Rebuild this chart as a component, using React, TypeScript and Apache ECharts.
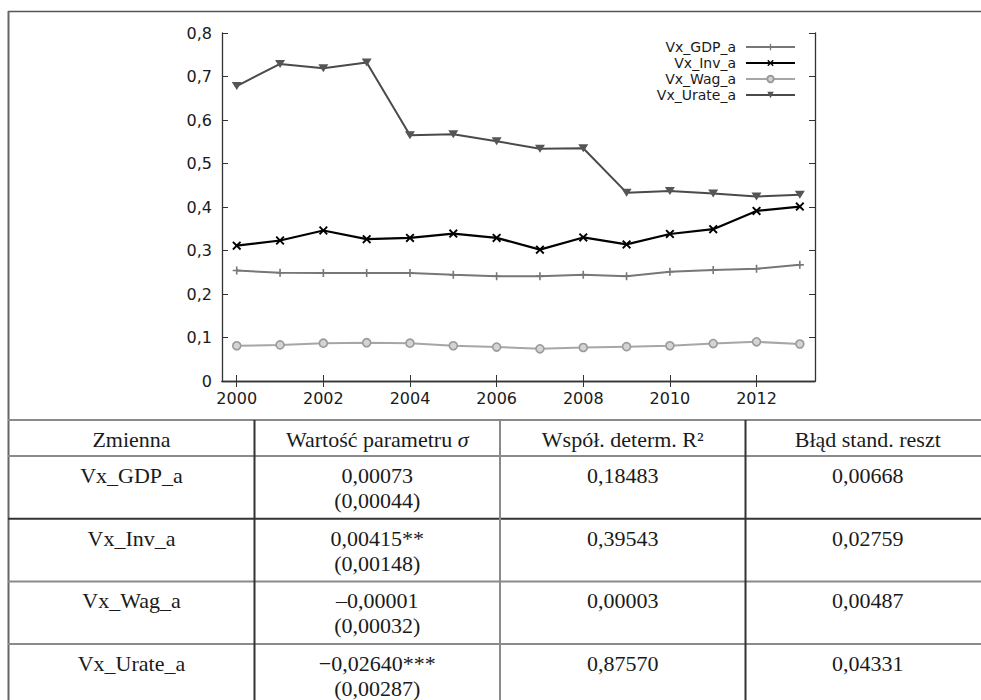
import React, { useEffect, useRef } from 'react';
import * as echarts from 'echarts';

const years = [2000, 2001, 2002, 2003, 2004, 2005, 2006, 2007, 2008, 2009, 2010, 2011, 2012, 2013];
const xTickYears = [2000, 2002, 2004, 2006, 2008, 2010, 2012];
const seriesNames = ['Vx_GDP_a', 'Vx_Inv_a', 'Vx_Wag_a', 'Vx_Urate_a'];
const gdp = [0.254, 0.249, 0.248, 0.248, 0.248, 0.244, 0.241, 0.241, 0.244, 0.241, 0.251, 0.255, 0.258, 0.267];
const inv = [0.311, 0.323, 0.346, 0.326, 0.329, 0.339, 0.329, 0.302, 0.330, 0.314, 0.338, 0.349, 0.391, 0.401];
const wag = [0.081, 0.083, 0.087, 0.088, 0.087, 0.081, 0.078, 0.074, 0.077, 0.079, 0.081, 0.086, 0.090, 0.085];
const urate = [0.678, 0.729, 0.719, 0.732, 0.565, 0.567, 0.551, 0.534, 0.535, 0.433, 0.437, 0.431, 0.424, 0.428];

const tableHeaders = ['Zmienna', 'Wartość parametru σ', 'Współ. determ. R²', 'Błąd stand. reszt'];
const paramValues = ['0,00073', '0,00415**', '–0,00001', '−0,02640***'];
const paramErrors = ['(0,00044)', '(0,00148)', '(0,00032)', '(0,00287)'];
const r2Values = ['0,18483', '0,39543', '0,00003', '0,87570'];
const seValues = ['0,00668', '0,02759', '0,00487', '0,04331'];

const plusPath = 'path://M4,0H6V4H10V6H6V10H4V6H0V4H4Z';
const crossPath = 'path://M1.5,0L5,3.5L8.5,0L10,1.5L6.5,5L10,8.5L8.5,10L5,6.5L1.5,10L0,8.5L3.5,5L0,1.5Z';
const triPath = 'path://M0,0L10,0L5,8Z';

const SANS = 'DejaVu Sans, Verdana, sans-serif';
const SERIF = 'Liberation Serif, Times New Roman, serif';

function buildTable(): any[] {
  const els: any[] = [];
  const colX = [8.5, 254.5, 500, 745.5, 990];
  const headerTop = 420;
  const headerBottom = 456;
  const rowH = 62.7;
  const hLineColors = ['#8a8a8a', '#8a8a8a', '#333', '#8a8a8a', '#8a8a8a', '#8a8a8a'];
  const vLineColors = ['#666', '#333', '#8a8a8a', '#333'];
  const rowLines = [headerTop, headerBottom];
  for (let i = 1; i <= paramValues.length; i++) rowLines.push(headerBottom + rowH * i);
  els.push({ type: 'line', shape: { x1: 8, y1: 11.5, x2: 981, y2: 11.5 }, style: { stroke: '#555', lineWidth: 1.6 } });
  els.push({ type: 'line', shape: { x1: 8.5, y1: 11, x2: 8.5, y2: 700 }, style: { stroke: '#666', lineWidth: 2 } });
  rowLines.forEach((y, i) => {
    els.push({ type: 'line', shape: { x1: 8, y1: y, x2: 981, y2: y }, style: { stroke: hLineColors[i], lineWidth: 2 } });
  });
  for (let c = 1; c < 4; c++) {
    els.push({ type: 'line', shape: { x1: colX[c], y1: headerTop, x2: colX[c], y2: 700 }, style: { stroke: vLineColors[c], lineWidth: 2 } });
  }
  const centers = [0, 1, 2, 3].map((c) => (colX[c] + colX[c + 1]) / 2);
  const baseText = { fontFamily: SERIF, fontSize: 22, fill: '#1a1a1a', align: 'center', verticalAlign: 'middle' };
  tableHeaders.forEach((h, c) => {
    if (h.endsWith('σ')) {
      els.push({
        type: 'text',
        style: {
          ...baseText,
          x: centers[c],
          y: 439,
          text: '{a|' + h.slice(0, -1) + '}{b|σ}',
          rich: {
            a: { fontFamily: SERIF, fontSize: 22, fill: '#1a1a1a' },
            b: { fontFamily: SERIF, fontSize: 22, fill: '#1a1a1a', fontStyle: 'italic' },
          },
        },
      });
    } else {
      els.push({ type: 'text', style: { ...baseText, x: centers[c], y: 439, text: h } });
    }
  });
  for (let r = 0; r < seriesNames.length; r++) {
    const top = headerBottom + rowH * r;
    const y1 = top + 19.5;
    const y2 = top + 44.5;
    els.push({ type: 'text', style: { ...baseText, x: centers[0], y: y1, text: seriesNames[r] } });
    els.push({ type: 'text', style: { ...baseText, x: centers[1], y: y1, text: paramValues[r] } });
    els.push({ type: 'text', style: { ...baseText, x: centers[1], y: y2, text: paramErrors[r] } });
    els.push({ type: 'text', style: { ...baseText, x: centers[2], y: y1, text: r2Values[r] } });
    els.push({ type: 'text', style: { ...baseText, x: centers[3], y: y1, text: seValues[r] } });
  }
  return els;
}

export default function App() {
  const ref = useRef<HTMLDivElement>(null);
  useEffect(() => {
    if (!ref.current) return;
    const chart = echarts.init(ref.current, null, { renderer: 'svg' });
    const pairs = (vals: number[]) => years.map((y, i) => [y, vals[i]]);
    const axisLine = { show: true, lineStyle: { color: '#333', width: 1.3 } };
    const xMin = 1999.66;
    const xMax = 2013.35;
    chart.setOption({
      animation: false,
      backgroundColor: '#fff',
      grid: { left: 222, top: 33, right: 166, bottom: 319, containLabel: false },
      legend: {
        data: seriesNames,
        orient: 'vertical',
        right: 185,
        top: 39,
        align: 'right',
        itemWidth: 49,
        itemHeight: 8,
        itemGap: 0,
        padding: 0,
        textStyle: { fontFamily: SANS, fontSize: 14, lineHeight: 16, color: '#1a1a1a', padding: [0, 5, 0, 0] },
      },
      xAxis: [
        {
          type: 'value',
          min: xMin,
          max: xMax,
          position: 'bottom',
          axisLine,
          splitLine: { show: false },
          axisTick: { show: true, inside: true, length: 6, customValues: xTickYears, lineStyle: { color: '#333' } },
          axisLabel: {
            show: true,
            customValues: xTickYears,
            margin: 9,
            fontFamily: SANS,
            fontSize: 16,
            color: '#1a1a1a',
            formatter: (v: number) => String(v),
          },
        },
        {
          type: 'value',
          min: xMin,
          max: xMax,
          position: 'top',
          axisLine,
          splitLine: { show: false },
          axisTick: { show: true, inside: true, length: 6, customValues: xTickYears, lineStyle: { color: '#333' } },
          axisLabel: { show: false },
        },
      ],
      yAxis: [
        {
          type: 'value',
          min: 0,
          max: 0.8,
          interval: 0.1,
          position: 'left',
          axisLine,
          splitLine: { show: false },
          axisTick: { show: true, inside: true, length: 6, lineStyle: { color: '#333' } },
          axisLabel: {
            margin: 10,
            fontFamily: SANS,
            fontSize: 16,
            color: '#1a1a1a',
            formatter: (v: number) => (v === 0 ? '0' : v.toFixed(1).replace('.', ',')),
          },
        },
        {
          type: 'value',
          min: 0,
          max: 0.8,
          interval: 0.1,
          position: 'right',
          axisLine,
          splitLine: { show: false },
          axisTick: { show: true, inside: true, length: 6, lineStyle: { color: '#333' } },
          axisLabel: { show: false },
        },
      ],
      series: [
        {
          name: seriesNames[0],
          type: 'line',
          data: pairs(gdp),
          symbol: plusPath,
          symbolSize: 8,
          lineStyle: { color: '#777', width: 2 },
          itemStyle: { color: '#777' },
        },
        {
          name: seriesNames[1],
          type: 'line',
          data: pairs(inv),
          symbol: crossPath,
          symbolSize: 9,
          lineStyle: { color: '#000', width: 2.2 },
          itemStyle: { color: '#000' },
        },
        {
          name: seriesNames[2],
          type: 'line',
          data: pairs(wag),
          symbol: 'circle',
          symbolSize: 8,
          lineStyle: { color: '#a6a6a6', width: 2 },
          itemStyle: { color: '#d4d4d4', borderColor: '#9a9a9a', borderWidth: 1.6 },
        },
        {
          name: seriesNames[3],
          type: 'line',
          data: pairs(urate),
          symbol: triPath,
          symbolSize: [10, 8],
          lineStyle: { color: '#4a4a4a', width: 2 },
          itemStyle: { color: '#555' },
        },
      ],
      graphic: buildTable(),
    });
    return () => chart.dispose();
  }, []);
  return <div ref={ref} style={{ position: 'fixed', left: 0, top: 0, width: 981, height: 700 }} />;
}
